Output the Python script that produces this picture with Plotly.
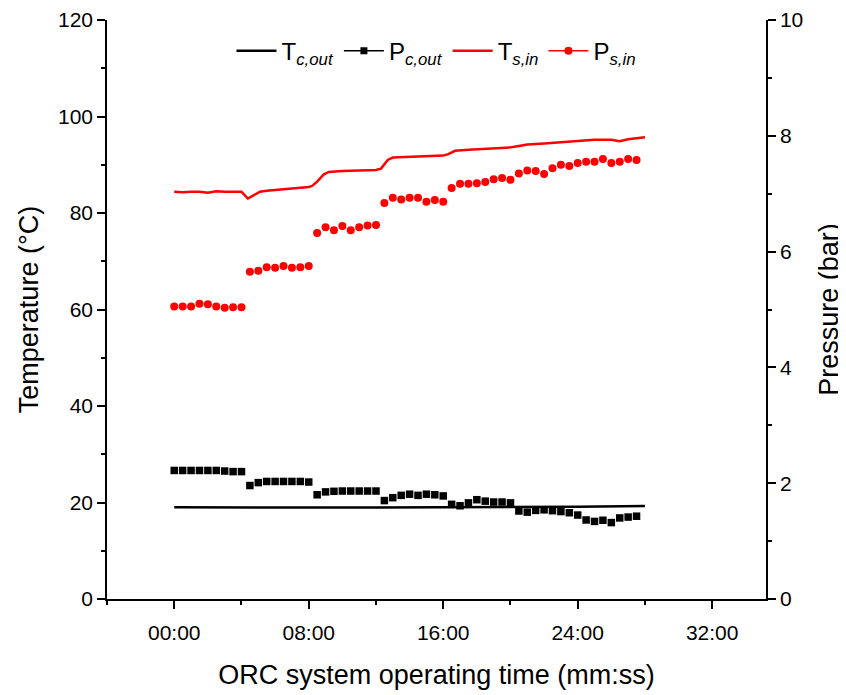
import plotly.graph_objects as go

# time in minutes for the pressure samples (every 30 s)
p_time = [0, 0.5, 1, 1.5, 2, 2.5, 3, 3.5, 4,
          4.5, 5, 5.5, 6, 6.5, 7, 7.5, 8,
          8.5, 9, 9.5, 10, 10.5, 11, 11.5, 12,
          12.5, 13, 13.5, 14, 14.5, 15, 15.5, 16,
          16.5, 17, 17.5, 18, 18.5, 19, 19.5, 20, 20.5, 21, 21.5, 22,
          22.5, 23, 23.5, 24, 24.5, 25, 25.5, 26, 26.5, 27, 27.5]

p_s_in = [5.05, 5.05, 5.05, 5.10, 5.09, 5.05, 5.03, 5.04, 5.04,
          5.65, 5.67, 5.73, 5.72, 5.75, 5.72, 5.73, 5.75,
          6.32, 6.42, 6.37, 6.44, 6.37, 6.42, 6.45, 6.46,
          6.84, 6.93, 6.90, 6.93, 6.93, 6.86, 6.89, 6.86,
          7.10, 7.17, 7.17, 7.18, 7.20, 7.25, 7.27, 7.24, 7.35, 7.40, 7.39, 7.34,
          7.44, 7.50, 7.48, 7.53, 7.55, 7.55, 7.60, 7.53, 7.55, 7.60, 7.58]

p_c_out = [2.22, 2.22, 2.22, 2.22, 2.22, 2.22, 2.21, 2.20, 2.20,
           1.96, 2.01, 2.03, 2.03, 2.03, 2.03, 2.03, 2.02,
           1.80, 1.85, 1.86, 1.865, 1.865, 1.865, 1.865, 1.865,
           1.70, 1.75, 1.79, 1.81, 1.79, 1.81, 1.80, 1.78,
           1.635, 1.61, 1.66, 1.715, 1.69, 1.675, 1.675, 1.66, 1.52, 1.50, 1.53, 1.54,
           1.525, 1.51, 1.49, 1.45, 1.365, 1.34, 1.36, 1.32, 1.40, 1.415, 1.43]

# temperature traces (continuous lines)
ts_time = [0, 0.5, 1, 1.5, 2, 2.5, 3, 3.5, 4.0, 4.38, 5.1, 5.5, 6.5, 7, 7.5, 8.0, 8.2,
           8.5, 8.9, 9.2, 10, 11, 12, 12.3, 12.7, 13, 14, 15, 16, 16.3, 16.7, 17.5,
           18.5, 20, 20.5, 21, 22, 23, 24, 25, 26, 26.5, 27, 28]
t_s_in = [84.4, 84.3, 84.4, 84.4, 84.2, 84.5, 84.4, 84.4, 84.4, 83.0, 84.4, 84.6, 84.9,
          85.0, 85.1, 85.4, 85.6, 86.5, 88.0, 88.5, 88.7, 88.8, 88.9, 89.2, 91.0, 91.5,
          91.6, 91.8, 91.9, 92.2, 92.9, 93.1, 93.3, 93.6, 93.9, 94.2, 94.4, 94.7, 95.0,
          95.2, 95.2, 94.9, 95.3, 95.7]

tc_time = [0, 4, 8, 12, 16, 20, 24, 28]
t_c_out = [19.0, 18.95, 18.9, 18.95, 19.0, 19.0, 19.1, 19.3]

x_tickvals = [0, 8, 16, 24, 32]
x_ticktext = ["00:00", "08:00", "16:00", "24:00", "32:00"]

fig = go.Figure()

# T c,out
fig.add_trace(go.Scatter(
    x=tc_time, y=t_c_out, mode="lines",
    name="T<i><sub>c,out</sub></i>",
    line=dict(color="black", width=2.5),
))

# P c,out - markers on the plot, line+marker in legend
fig.add_trace(go.Scatter(
    x=p_time, y=p_c_out, mode="markers", yaxis="y2",
    marker=dict(symbol="square", size=7.5, color="black"),
    showlegend=False,
))
fig.add_trace(go.Scatter(
    x=[None], y=[None], mode="lines+markers", yaxis="y2",
    name="P<i><sub>c,out</sub></i>",
    line=dict(color="black", width=1.5),
    marker=dict(symbol="square", size=7, color="black"),
))

# T s,in
fig.add_trace(go.Scatter(
    x=ts_time, y=t_s_in, mode="lines",
    name="T<i><sub>s,in</sub></i>",
    line=dict(color="red", width=2.5),
))

# P s,in
fig.add_trace(go.Scatter(
    x=p_time, y=p_s_in, mode="markers", yaxis="y2",
    marker=dict(symbol="circle", size=8, color="red"),
    showlegend=False,
))
fig.add_trace(go.Scatter(
    x=[None], y=[None], mode="lines+markers", yaxis="y2",
    name="P<i><sub>s,in</sub></i>",
    line=dict(color="red", width=1.5),
    marker=dict(symbol="circle", size=8, color="red"),
))

axis_font = dict(family="Liberation Sans, Arial", size=21, color="black")
title_font = dict(family="Liberation Sans, Arial", size=27, color="black")

# the html body adds an 8px offset, margins account for it
fig.update_layout(
    width=846, height=695,
    margin=dict(l=99, r=88, t=12, b=104),
    paper_bgcolor="white", plot_bgcolor="white",
    font=dict(family="Liberation Sans, Arial", color="black"),
    xaxis=dict(
        range=[-4, 35.2], automargin=False,
        tickvals=x_tickvals, ticktext=x_ticktext,
        ticks="outside", ticklen=8, tickwidth=1.5, tickcolor="black",
        ticklabelstandoff=6,
        minor=dict(ticks="outside", tick0=0, dtick=4, ticklen=4, tickcolor="black"),
        showline=True, linecolor="black", linewidth=1.5,
        showgrid=False, zeroline=False,
        tickfont=axis_font,
        title=dict(text="ORC system operating time (mm:ss)", font=title_font, standoff=22),
    ),
    yaxis=dict(
        range=[0, 120], dtick=20, automargin=False,
        ticks="outside", ticklen=8, tickwidth=1.5, tickcolor="black",
        minor=dict(ticks="outside", dtick=10, ticklen=4, tickcolor="black"),
        showline=True, linecolor="black", linewidth=1.5,
        showgrid=False, zeroline=False,
        tickfont=axis_font,
        title=dict(text="Temperature (°C)", font=title_font, standoff=12),
    ),
    yaxis2=dict(
        range=[0, 10], dtick=2, overlaying="y", side="right", automargin=False,
        ticks="outside", ticklen=8, tickwidth=1.5, tickcolor="black",
        minor=dict(ticks="outside", dtick=1, ticklen=4, tickcolor="black"),
        showline=True, linecolor="black", linewidth=1.5,
        showgrid=False, zeroline=False,
        tickfont=axis_font,
        title=dict(text="Pressure (bar)", font=title_font, standoff=17),
    ),
    legend=dict(
        orientation="h", x=0.5, xanchor="center", y=0.985, yanchor="top",
        bgcolor="rgba(0,0,0,0)", font=dict(size=24, color="black"),
        itemwidth=40, tracegroupgap=0,
    ),
    showlegend=True,
)

fig.write_html("out.html")
